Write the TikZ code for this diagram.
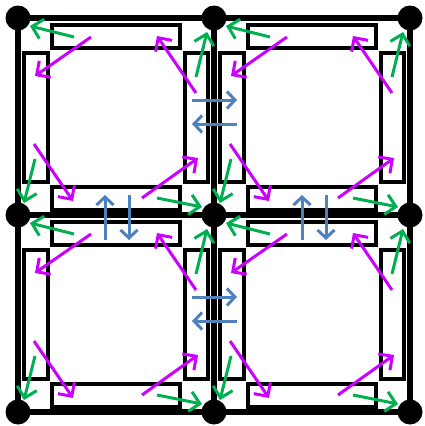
\documentclass[tikz,border=0pt]{standalone}
\usetikzlibrary{arrows.meta}
\definecolor{mag}{RGB}{204,0,255}
\definecolor{grn}{RGB}{0,176,80}
\definecolor{blu}{RGB}{79,129,189}
\begin{document}
\begin{tikzpicture}[x=1pt,y=-1pt,
  gridline/.style={line width=6.5pt},
  slot/.style={draw=black,line width=3.5pt,fill=white},
  flow/.style={line width=3pt,-{Straight Barb[length=10pt,width=20pt]}},
  magflow/.style={flow,draw=mag},
  grnflow/.style={flow,draw=grn},
  bluflow/.style={line width=3pt,draw=blu,-{Straight Barb[length=8pt,width=17pt]}},
  joint/.style={fill=black}]
\useasboundingbox (0,0) rectangle (424,426);
% grid
\draw[gridline] (18,18) rectangle (410,412);
\draw[gridline] (214,18) -- (214,412);
\draw[gridline] (18,215) -- (410,215);
% cells
\foreach \ox/\oy in {18/18, 214/18, 18/215, 214/215} {
  \begin{scope}[shift={(\ox,\oy)}]
    \draw[slot] (34,7) rectangle (162,30);
    \draw[slot] (6,35) rectangle (30,164);
    \draw[slot] (167,35) rectangle (190,164);
    \draw[slot] (34,169) rectangle (162,192);
    \draw[magflow] (73,19) -- (17,58);
    \draw[magflow] (178,75) -- (139,18);
    \draw[magflow] (16,126) -- (55,183);
    \draw[magflow] (124,180) -- (180,140);
    \draw[grnflow] (56,19) -- (12,8);
    \draw[grnflow] (178,59) -- (189,14);
    \draw[grnflow] (17,141) -- (6,185);
    \draw[grnflow] (139,180) -- (184,189);
  \end{scope}
}
% exchange arrows
\foreach \yy in {100,297} {
  \draw[bluflow] (192,\yy) -- (237,\yy);
  \draw[bluflow] (237,\yy+24) -- (192,\yy+24);
}
\foreach \xx in {105,302} {
  \draw[bluflow] (\xx,240) -- (\xx,195);
  \draw[bluflow] (\xx+24,195) -- (\xx+24,240);
}
% joints
\foreach \jx in {18,214,410} {
  \foreach \jy in {18,215,412} {
    \fill[joint] (\jx,\jy) circle (12.5);
  }
}
\end{tikzpicture}
\end{document}
